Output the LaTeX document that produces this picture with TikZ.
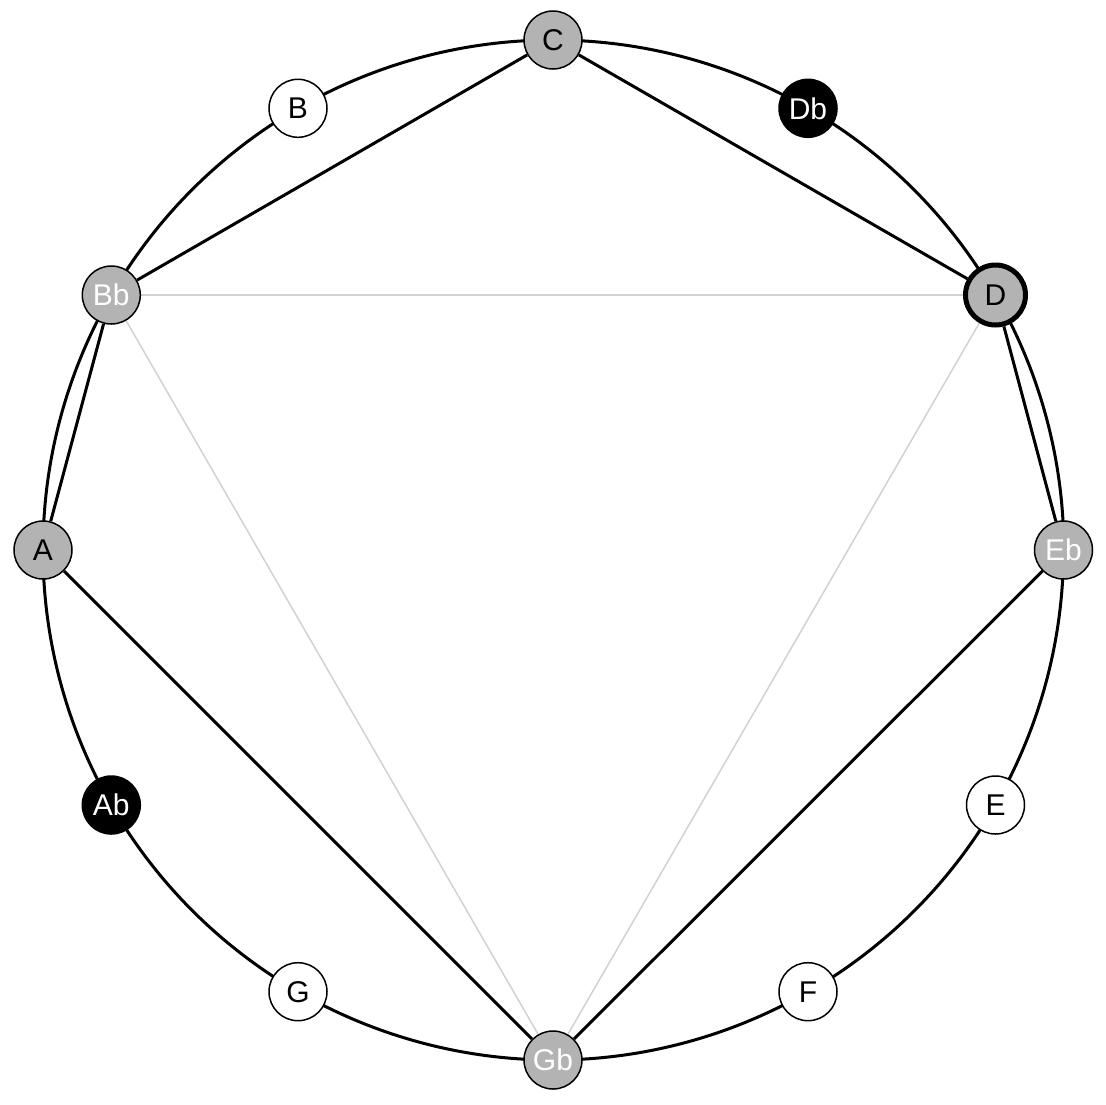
\documentclass[tikz,border=0pt]{standalone}
\usepackage{fontspec}
\setmainfont{Liberation Sans}
\usetikzlibrary{backgrounds}
\definecolor{notegray}{HTML}{B3B3B3}
\definecolor{lightedge}{HTML}{D2D2D2}
\begin{document}
\begin{tikzpicture}[x=1pt,y=-1pt,
  note/.style={circle,draw=black,line width=1.5pt,minimum size=58pt,inner sep=0pt,font=\fontsize{30}{30}\selectfont},
  grayblack/.style={note,fill=notegray,text=black},
  graywhite/.style={note,fill=notegray,text=white},
  blacknote/.style={note,fill=black,text=white},
  whitenote/.style={note,fill=white,text=black},
  strong/.style={note,fill=notegray,text=black,line width=5pt,minimum size=60pt},
  edge/.style={draw=black,line width=3pt},
  faint/.style={draw=lightedge,line width=1.5pt}]
\useasboundingbox (0,0) rectangle (1106,1104);
\node[grayblack]  (C)  at (553,40)      {C};
\node[blacknote]  (Db) at (808,108.3)   {Db};
\node[strong]     (D)  at (995.5,295)   {D};
\node[graywhite]  (Eb) at (1063.5,550)  {Eb};
\node[whitenote]  (E)  at (995.5,805)   {E};
\node[whitenote]  (F)  at (808,991.7)   {F};
\node[graywhite]  (Gb) at (553,1060)    {Gb};
\node[whitenote]  (G)  at (298,991.7)   {G};
\node[blacknote]  (Ab) at (111.3,805)   {Ab};
\node[grayblack]  (A)  at (43,550)      {A};
\node[graywhite]  (Bb) at (111.3,295)   {Bb};
\node[whitenote]  (B)  at (298,108.3)   {B};
\begin{pgfonlayer}{background}
% circle arcs between neighbouring notes (angles negated because y points down)
\foreach \a/\s in {C/90,Db/60,D/30,Eb/0,E/-30,F/-60,Gb/-90,G/-120,Ab/-150,A/-180,Bb/-210,B/-240}
  \path[edge] (\a.center) arc[start angle=-\s, delta angle=30, radius=510];
% faint triangle
\path[faint] (Bb) -- (D);
\path[faint] (Bb) -- (Gb);
\path[faint] (D) -- (Gb);
% chords
\path[edge] (C) -- (Bb);
\path[edge] (C) -- (D);
\path[edge] (Bb) -- (A);
\path[edge] (D) -- (Eb);
\path[edge] (A) -- (Gb);
\path[edge] (Eb) -- (Gb);
\end{pgfonlayer}
\end{tikzpicture}
\end{document}
